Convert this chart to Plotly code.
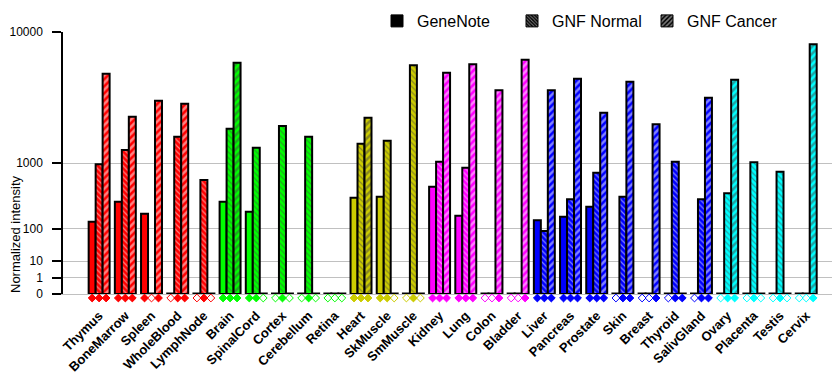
import math
import plotly.graph_objects as go

# ---------------- data ----------------
categories = ["Thymus", "BoneMarrow", "Spleen", "WholeBlood", "LymphNode",
              "Brain", "SpinalCord", "Cortex", "Cerebellum", "Retina",
              "Heart", "SkMuscle", "SmMuscle",
              "Kidney", "Lung", "Colon", "Bladder",
              "Liver", "Pancreas", "Prostate", "Skin", "Breast", "Thyroid", "SalivGland",
              "Ovary", "Placenta", "Testis", "Cervix"]

genenote = [138, 312, 197, 0, 0,
            312, 213, 0, 0, 0,
            359, 372, 0,
            515, 181, 0, 0,
            148, 173, 260, 0, 0, 0, 0,
            0, 0, 0, 0]

gnf_normal = [967, 1369, 0, 1837, 630,
              2165, 1442, 2284, 1837, 0,
              1578, 1685, 6368,
              1033, 885, 0, 0,
              88, 340, 775, 372, 0, 1033, 340,
              417, 1018, 796, 0]

gnf_cancer = [5620, 2732, 3640, 3457, 0,
              6612, 0, 0, 0, 0,
              2681, 0, 0,
              5706, 6461, 4334, 6899,
              4334, 5210, 2944, 4969, 2361, 0, 3831,
              5132, 0, 0, 8528]

# presence calls (1 = filled diamond, 0 = open diamond)
genenote_call = [1, 1, 1, 0, 0, 1, 1, 0, 0, 0, 1, 1, 0, 1, 1, 0, 0,
                 1, 1, 1, 0, 0, 0, 0, 0, 0, 0, 0]
normal_call = [1, 1, 0, 1, 1, 1, 1, 1, 1, 0, 1, 1, 1, 1, 1, 0, 0,
               1, 1, 1, 1, 0, 1, 1, 1, 1, 1, 0]
cancer_call = [1, 1, 1, 1, 0, 1, 0, 0, 0, 0, 1, 0, 0, 1, 1, 1, 1,
               1, 1, 1, 1, 1, 1, 1, 1, 0, 0, 1]

tissue_colors = (["#FF0000"] * 5 + ["#00FF00"] * 5 + ["#CCCC00"] * 3 +
                 ["#FF00FF"] * 4 + ["#0000FF"] * 7 + ["#00FFFF"] * 4)

tick_values = [0, 1, 10, 100, 1000, 10000]
tick_labels = ["0", "1", "10", "100", "1000", "10000"]

series_names = ["GeneNote", "GNF Normal", "GNF Cancer"]
series_values = [genenote, gnf_normal, gnf_cancer]
series_calls = [genenote_call, normal_call, cancer_call]

y_title = "Normalized intensity"

# ---------------- scale ----------------
EXP = math.log10(2)          # each decade takes twice the space of the previous one


def tr(v):
    return v ** EXP if v > 0 else 0.0


ZERO_H = 0.03                # empty bars still show their black outline
GROUP = 0.8
W = GROUP / 3
patterns = [None,
            dict(shape="\\", fgcolor="white", size=4, solidity=0.3),
            dict(shape="/", fgcolor="white", size=5, solidity=0.5)]
legend_patterns = [None,
                   dict(shape="\\", fgcolor="white", size=3, solidity=0.4),
                   dict(shape="/", fgcolor="white", size=4, solidity=0.5)]

# layout in pixels (page body adds an 8px offset)
OFF = 8
H_MAIN = 262          # main plot height (10000 -> 0)
H_STRIP = 10          # strip below zero holding the call diamonds
H_ALL = H_MAIN + H_STRIP
MAIN_DOM0 = H_STRIP / H_ALL
PLOT_W = 777

fig = go.Figure()
idx = list(range(len(categories)))

for j, (name, vals) in enumerate(zip(series_names, series_values)):
    marker = dict(color=tissue_colors, line=dict(color="black", width=2))
    if patterns[j]:
        marker["pattern"] = patterns[j]
    fig.add_trace(go.Bar(
        x=idx, y=[max(tr(v), ZERO_H) for v in vals],
        width=W, offset=-GROUP / 2 + j * W,
        marker=marker, customdata=vals, text=categories, textposition="none",
        hovertemplate="%{text}: %{customdata}<extra>" + name + "</extra>",
        showlegend=False))

for j, calls in enumerate(series_calls):
    fig.add_trace(go.Scatter(
        x=[i - GROUP / 2 + (j + 0.5) * W for i in idx],
        y=[0] * len(idx), yaxis="y2",
        mode="markers", cliponaxis=False, showlegend=False, hoverinfo="skip",
        marker=dict(symbol=["diamond" if c else "diamond-open" for c in calls],
                    color=tissue_colors, size=6,
                    line=dict(color=tissue_colors, width=1))))

# legend entries (black samples)
for j, name in enumerate(series_names):
    marker = dict(color="black", line=dict(color="black", width=1))
    if legend_patterns[j]:
        marker["pattern"] = legend_patterns[j]
    fig.add_trace(go.Bar(x=[None], y=[None], name=name, marker=marker,
                         showlegend=True))

FONT = "Arial, Liberation Sans, sans-serif"
fig.update_layout(
    width=840 - OFF, height=385 - OFF,
    margin=dict(l=63 - OFF, r=0, t=32 - OFF, b=81, autoexpand=False),
    paper_bgcolor="white", plot_bgcolor="white",
    barmode="overlay",
    font=dict(family=FONT, color="black"),
    legend=dict(orientation="h", x=(377 - 63) / PLOT_W, xanchor="left",
                y=1 + 11 / H_ALL, yanchor="middle",
                font=dict(size=16, family=FONT, color="black"),
                bgcolor="rgba(0,0,0,0)", entrywidth=90, traceorder="normal"),
    xaxis=dict(range=[-1.38, 28.29], tickmode="array", tickvals=idx,
               ticktext=categories, tickangle=-45, ticks="",
               ticklabelstandoff=8, anchor="y",
               tickfont=dict(family=FONT, size=13, weight="bold", color="black"),
               showgrid=False, zeroline=False, showline=True,
               linecolor="#C0C0C0", linewidth=1),
    yaxis=dict(domain=[MAIN_DOM0, 1], range=[0, tr(10000)], tickmode="array",
               tickvals=[tr(v) for v in tick_values], ticktext=tick_labels,
               ticks="outside", ticklen=9, tickwidth=1.5, tickcolor="black",
               ticklabelstandoff=7,
               tickfont=dict(family=FONT, size=12, color="black"),
               showgrid=True, gridcolor="#C0C0C0", gridwidth=1,
               zeroline=False, showline=True, linecolor="black", linewidth=1.5),
    yaxis2=dict(domain=[0, MAIN_DOM0], range=[-0.6, 0.4], visible=False,
                showgrid=False, zeroline=False, fixedrange=True),
    annotations=[dict(text=y_title, textangle=-90, showarrow=False,
                      xref="paper", yref="paper",
                      x=(15 - 63) / PLOT_W, y=(304 - 234) / H_ALL,
                      xanchor="center", yanchor="middle", borderpad=0,
                      font=dict(family=FONT, size=13, color="black"))],
)

fig.write_html("out.html")
